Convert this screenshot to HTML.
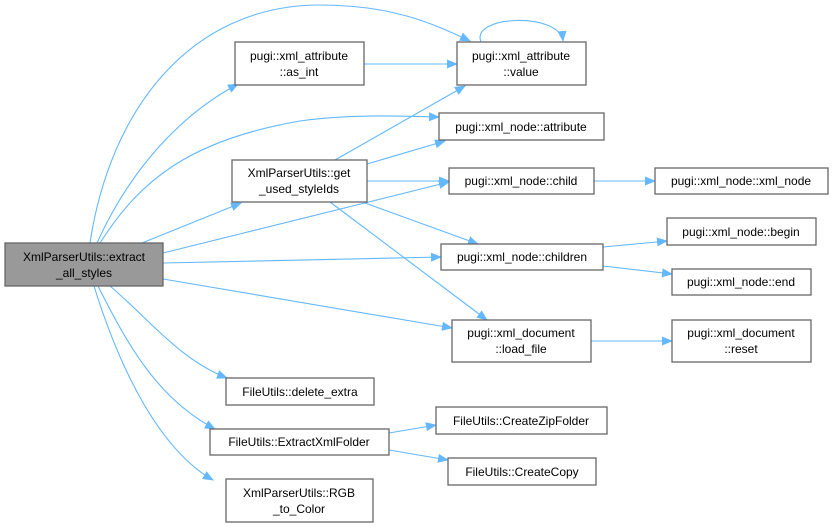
<!DOCTYPE html>
<html><head><meta charset="utf-8"><style>
html,body{margin:0;padding:0;background:#fff;}
svg{display:block;}
text{font-family:"Liberation Sans",Arial,sans-serif;font-size:12px;fill:#000;}
.n{fill:#fff;stroke:#666;stroke-width:1.3;}
.m{fill:#999;stroke:#666;stroke-width:1.3;}
.e{fill:none;stroke:#63b8ff;stroke-width:1.1;}
</style></head><body>
<svg width="834" height="528" viewBox="0 0 834 528" xmlns="http://www.w3.org/2000/svg">
<defs><marker id="a" markerWidth="11" markerHeight="9" refX="10" refY="4.5" orient="auto" markerUnits="userSpaceOnUse"><path d="M0,0 L11,4.5 L0,9 z" fill="#63b8ff"/></marker></defs>
<g class="e" marker-end="url(#a)">
<path d="M90,243 C110,110 190,5 320,5 C390,5 430,22 470,41"/>
<path d="M97,243 C130,170 180,115 238,84"/>
<path d="M100,243 C140,180 190,140 300,121 C350,114 400,116 439,117"/>
<path d="M142,243 L241,203"/>
<path d="M163,253 L449,182"/>
<path d="M163,263 L441,257"/>
<path d="M163,279 L452,328"/>
<path d="M110,286 C150,320 180,360 227,378"/>
<path d="M98,286 C130,350 160,400 215,429"/>
<path d="M94,286 C120,370 160,450 213,480"/>
<path d="M335,160 L465,86"/>
<path d="M367,164 L445,141"/>
<path d="M367,181 L449,181"/>
<path d="M365,203 L478,244"/>
<path d="M330,202 L487,320"/>
<path d="M364,64 L457,64"/>
<path d="M481,42 C470,15 560,12 563,41"/>
<path d="M594,181 L655,181"/>
<path d="M603,247 L667,241"/>
<path d="M603,266 L672,274"/>
<path d="M591,341 L672,341"/>
<path d="M389,433 L436,425"/>
<path d="M389,450 L448,460"/>
</g>
<rect class="m" x="5" y="243" width="158" height="43"/>
<text x="84" y="261" text-anchor="middle">XmlParserUtils::extract</text>
<text x="84" y="277" text-anchor="middle">_all_styles</text>
<rect class="n" x="235" y="42" width="129" height="43"/>
<text x="299" y="60" text-anchor="middle">pugi::xml_attribute</text>
<text x="299" y="76" text-anchor="middle">::as_int</text>
<rect class="n" x="232" y="160" width="135" height="42"/>
<text x="299" y="177" text-anchor="middle">XmlParserUtils::get</text>
<text x="299" y="193" text-anchor="middle">_used_styleIds</text>
<rect class="n" x="457" y="42" width="129" height="43"/>
<text x="521" y="60" text-anchor="middle">pugi::xml_attribute</text>
<text x="521" y="76" text-anchor="middle">::value</text>
<rect class="n" x="439" y="113" width="165" height="27"/>
<text x="521" y="131" text-anchor="middle">pugi::xml_node::attribute</text>
<rect class="n" x="449" y="168" width="145" height="26"/>
<text x="521" y="185" text-anchor="middle">pugi::xml_node::child</text>
<rect class="n" x="655" y="168" width="173" height="26"/>
<text x="741" y="185" text-anchor="middle">pugi::xml_node::xml_node</text>
<rect class="n" x="441" y="244" width="162" height="26"/>
<text x="522" y="261" text-anchor="middle">pugi::xml_node::children</text>
<rect class="n" x="667" y="218" width="149" height="27"/>
<text x="741" y="236" text-anchor="middle">pugi::xml_node::begin</text>
<rect class="n" x="672" y="269" width="139" height="26"/>
<text x="741" y="286" text-anchor="middle">pugi::xml_node::end</text>
<rect class="n" x="452" y="320" width="139" height="42"/>
<text x="521" y="337" text-anchor="middle">pugi::xml_document</text>
<text x="521" y="353" text-anchor="middle">::load_file</text>
<rect class="n" x="672" y="320" width="139" height="42"/>
<text x="741" y="337" text-anchor="middle">pugi::xml_document</text>
<text x="741" y="353" text-anchor="middle">::reset</text>
<rect class="n" x="226" y="378" width="148" height="27"/>
<text x="300" y="396" text-anchor="middle">FileUtils::delete_extra</text>
<rect class="n" x="210" y="429" width="179" height="26"/>
<text x="299" y="446" text-anchor="middle">FileUtils::ExtractXmlFolder</text>
<rect class="n" x="436" y="407" width="171" height="27"/>
<text x="521" y="425" text-anchor="middle">FileUtils::CreateZipFolder</text>
<rect class="n" x="448" y="458" width="148" height="27"/>
<text x="522" y="476" text-anchor="middle">FileUtils::CreateCopy</text>
<rect class="n" x="226" y="479" width="147" height="43"/>
<text x="299" y="497" text-anchor="middle">XmlParserUtils::RGB</text>
<text x="299" y="513" text-anchor="middle">_to_Color</text>
</svg>
</body></html>
